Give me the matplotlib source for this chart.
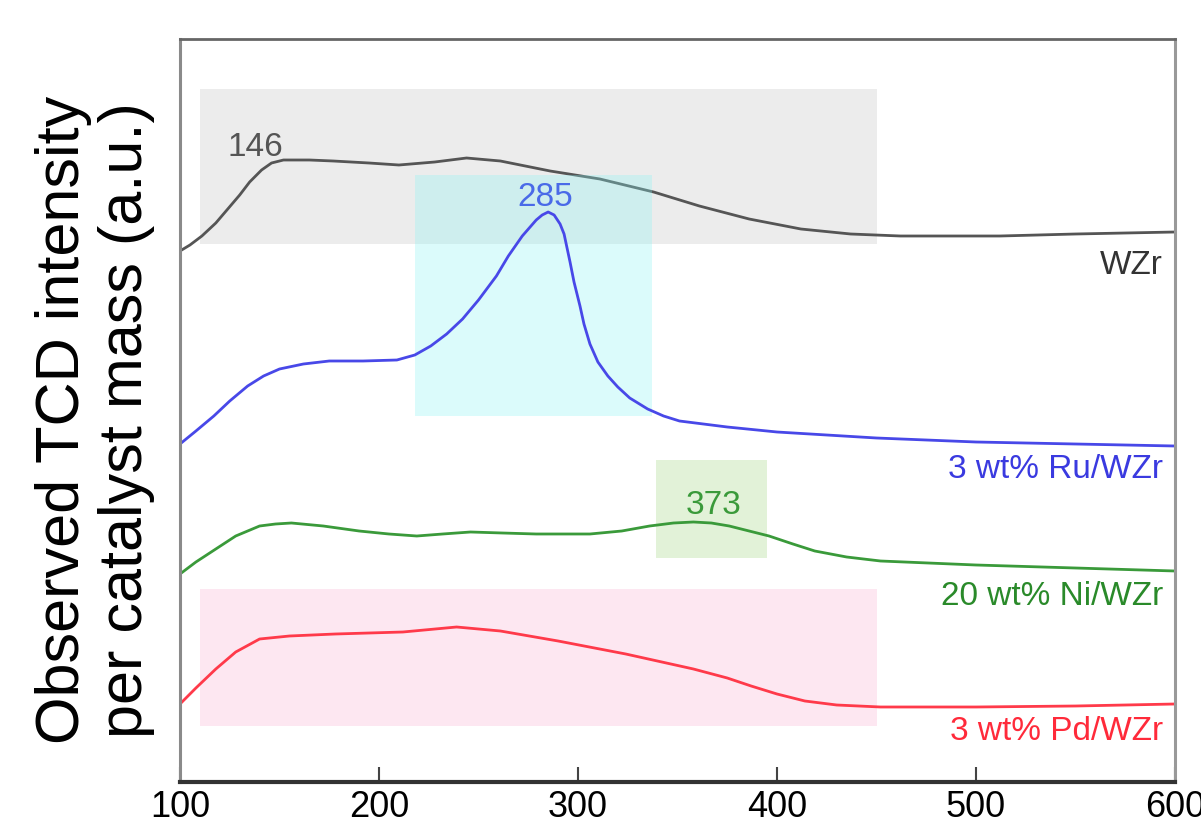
import matplotlib
matplotlib.use("Agg")
import matplotlib.pyplot as plt
from matplotlib.patches import Rectangle

plt.rcParams['font.family'] = ['Liberation Sans', 'DejaVu Sans']

# temperature (C) vs observed TCD signal (a.u., curves offset)
t_wzr = [100, 105, 111, 118, 124, 130, 135, 141, 146, 152, 165, 177, 195, 210, 228, 244, 261, 286, 311, 338, 361, 386, 412, 437, 462, 512, 550, 600]
y_wzr = [531, 537, 546, 559, 573, 587, 600, 612, 619, 622, 622, 621, 619, 617, 620, 624, 621, 611, 603, 590, 576, 563, 553, 548, 546, 546, 548, 550]

t_ru = [100, 108, 117, 125, 134, 142, 150, 162, 175, 192, 209, 218, 226, 234, 242, 250, 259, 265, 272, 279, 282, 285, 288, 291, 293, 296, 298, 301, 303, 306, 310, 315, 320, 326, 335, 343, 351, 375, 400, 450, 500, 550, 600]
y_ru = [338, 351, 366, 381, 396, 406, 413, 418, 421, 421, 422, 427, 436, 448, 463, 482, 506, 526, 546, 562, 567, 570, 567, 558, 548, 520, 500, 476, 458, 438, 420, 406, 395, 384, 373, 366, 361, 355, 350, 344, 340, 338, 336]

t_ni = [100, 108, 118, 128, 140, 148, 156, 172, 190, 205, 219, 232, 246, 262, 279, 306, 322, 336, 348, 358, 367, 376, 386, 396, 408, 419, 435, 452, 500, 550, 600]
y_ni = [208, 220, 233, 246, 256, 258, 259, 256, 251, 248, 246, 248, 250, 249, 248, 248, 251, 256, 259, 260, 259, 256, 251, 246, 238, 231, 225, 221, 217, 214, 211]

t_pd = [100, 108, 118, 128, 140, 155, 178, 212, 239, 261, 290, 324, 358, 375, 387, 400, 414, 430, 452, 500, 550, 600]
y_pd = [78, 94, 113, 130, 143, 146, 148, 150, 155, 151, 141, 128, 113, 104, 96, 88, 81, 77, 75, 75, 76, 78]

series_names = ["WZr", "3 wt% Ru/WZr", "20 wt% Ni/WZr", "3 wt% Pd/WZr"]
peak_labels = ["146", "285", "373"]

# highlighted regions: (t_start, t_end, y_low, y_high)
box_wzr = (110, 450, 538, 693)
box_ru = (218, 337, 366, 607)
box_ni = (339, 395, 224, 322)
box_pd = (110, 450, 56, 193)

fig = plt.figure(figsize=(12.01, 8.28), dpi=100)
ax = fig.add_axes([180/1201, 1-783/828, (1175-180)/1201, (783-40)/828])
ax.set_xlim(100, 600)
ax.set_ylim(0, 743)

def box(b, color, alpha=1.0, z=0.5):
    ax.add_patch(Rectangle((b[0], b[2]), b[1]-b[0], b[3]-b[2], facecolor=color,
                           edgecolor='none', alpha=alpha, zorder=z))

box(box_wzr, '#ececec')
box(box_pd, '#fde7f1')
box(box_ni, '#e2f2d8')
box(box_ru, '#8af5f5', alpha=0.3, z=1.5)

ax.plot(t_wzr, y_wzr, color='#555555', lw=2, zorder=1)
ax.plot(t_ru, y_ru, color='#4848e8', lw=2, zorder=2)
ax.plot(t_ni, y_ni, color='#3a9a3a', lw=2, zorder=2)
ax.plot(t_pd, y_pd, color='#ff3a4a', lw=2, zorder=2)

fs = 24
ax.text(138, 636, peak_labels[0], color='#555555', fontsize=fs, ha='center', va='center', zorder=3)
ax.text(283.5, 585, peak_labels[1], color='#4a6ae8', fontsize=fs, ha='center', va='center', zorder=3)
ax.text(368, 278, peak_labels[2], color='#3a9a3a', fontsize=fs, ha='center', va='center', zorder=3)

ax.text(594, 518, series_names[0], color='#333333', fontsize=fs, ha='right', va='center')
ax.text(594, 313, series_names[1], color='#3a3ae0', fontsize=fs, ha='right', va='center')
ax.text(594, 186, series_names[2], color='#2a8a2a', fontsize=fs, ha='right', va='center')
ax.text(594, 51, series_names[3], color='#ff2a3a', fontsize=fs, ha='right', va='center')

for side, c, w in [('left', '#8a8a8a', 2.2), ('top', '#666666', 2.0),
                   ('right', '#999999', 2.2), ('bottom', '#333333', 3.0)]:
    ax.spines[side].set_color(c)
    ax.spines[side].set_linewidth(w)

ax.set_xticks([100, 200, 300, 400, 500, 600])
ax.set_yticks([])
ax.tick_params(axis='x', direction='in', length=11, width=1.5, color='#444444',
               labelsize=26, pad=5)

fig.text(95/1201, 1-420/828, "Observed TCD intensity\nper catalyst mass (a.u.)",
         rotation=90, ha='center', va='center', fontsize=44, linespacing=1.12)

fig.savefig("out.png", dpi=100)
